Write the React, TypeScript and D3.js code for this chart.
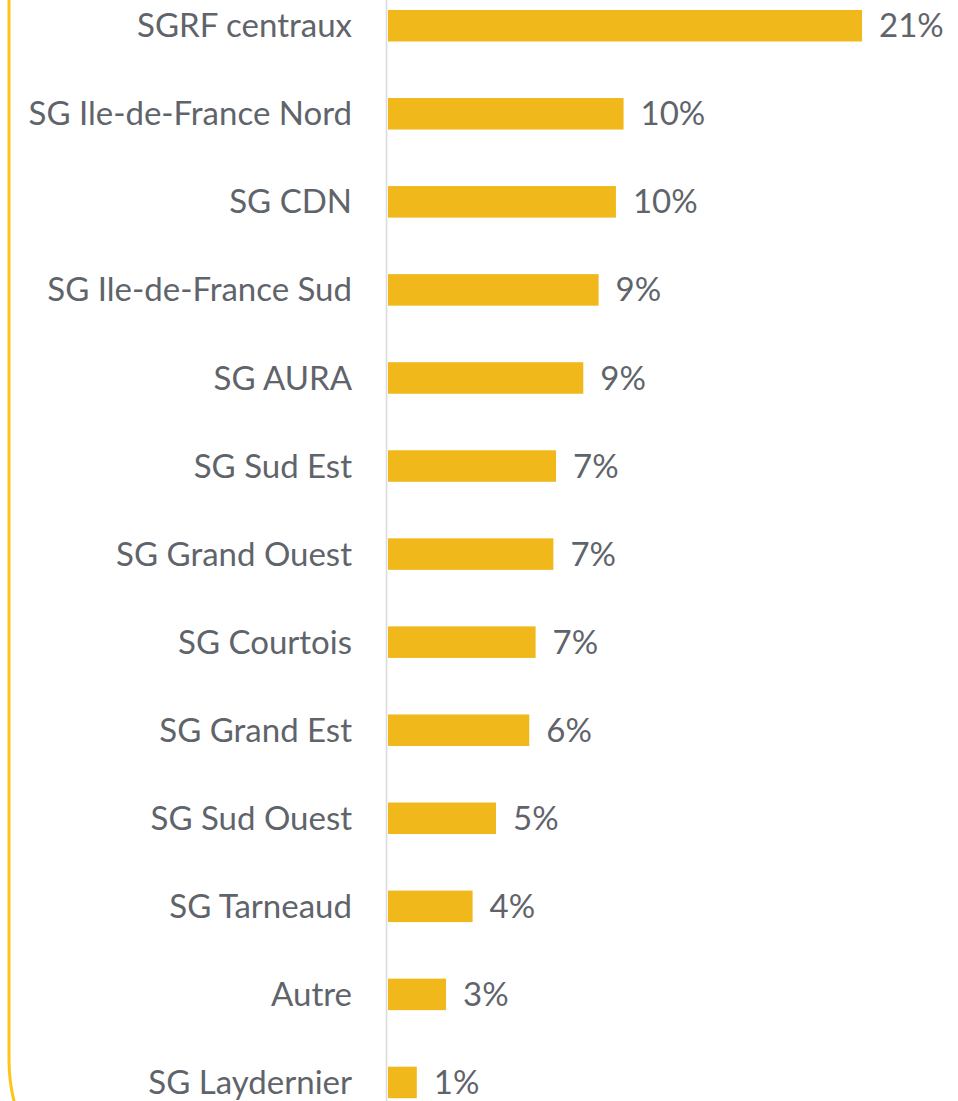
import React from "react";
import * as d3 from "d3";

const categories = [
  "SGRF centraux",
  "SG Ile-de-France Nord",
  "SG CDN",
  "SG Ile-de-France Sud",
  "SG AURA",
  "SG Sud Est",
  "SG Grand Ouest",
  "SG Courtois",
  "SG Grand Est",
  "SG Sud Ouest",
  "SG Tarneaud",
  "Autre",
  "SG Laydernier",
];
const values = [
  0.2107, 0.1047, 0.1013, 0.0936, 0.0868, 0.0747, 0.0735, 0.0656, 0.0628,
  0.048, 0.0376, 0.0258, 0.0128,
];

const W = 958;
const H = 1101;

export default function App() {
  const x = d3.scaleLinear().domain([0, 0.25]).range([388, 388 + 562.5]);
  const y = d3
    .scaleBand<string>()
    .domain(categories)
    .range([-18.3, -18.3 + 13 * 88.06])
    .paddingInner(0.642)
    .paddingOuter(0.321);
  const fmt = d3.format(".0%");
  const textColor = "#5f646b";
  const font = "Lato, 'Open Sans', sans-serif";

  return (
    <svg
      width={W}
      height={H}
      style={{ position: "absolute", left: 0, top: 0, display: "block", background: "#fff" }}
    >
      <path
        d="M9,-20 L9,1060 A170,170 0 0 0 179,1230"
        fill="none"
        stroke="#FFC417"
        strokeWidth={3}
      />
      <line x1={386.5} x2={386.5} y1={0} y2={H} stroke="#d9d9d9" strokeWidth={1.5} />
      {categories.map((c, i) => {
        const yy = y(c)!;
        const bw = y.bandwidth();
        const cy = yy + bw / 2;
        return (
          <g key={c}>
            <rect x={x(0)} y={yy} width={x(values[i]) - x(0)} height={bw} fill="#F1B81B" />
            <text
              x={352}
              y={cy}
              dy="0.35em"
              textAnchor="end"
              fontFamily={font}
              fontSize={33}
              fill={textColor}
            >
              {c}
            </text>
            <text
              x={x(values[i]) + 17}
              y={cy}
              dy="0.35em"
              textAnchor="start"
              fontFamily={font}
              fontSize={33}
              fill={textColor}
            >
              {fmt(values[i])}
            </text>
          </g>
        );
      })}
    </svg>
  );
}
